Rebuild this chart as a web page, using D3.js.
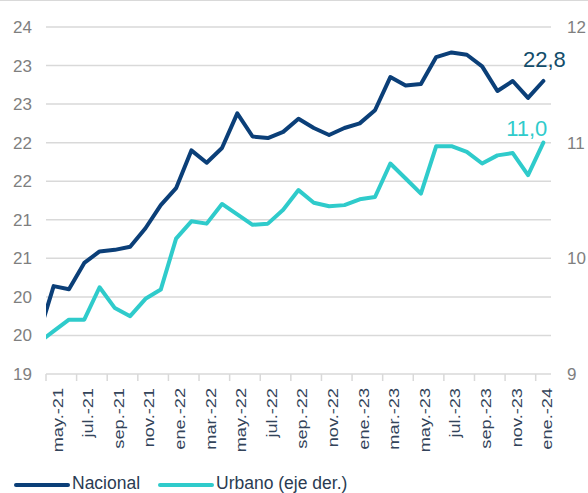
<!DOCTYPE html>
<html><head><meta charset="utf-8">
<script src="https://cdn.jsdelivr.net/npm/d3@7"></script>
<style>
html,body{margin:0;padding:0;background:#fff;}
svg{display:block;font-family:"Liberation Sans",Arial,sans-serif;}
</style></head>
<body>
<svg id="chart" width="588" height="493"></svg>
<script>
// ---- data ----
const categories = ["may.-21","jun.-21","jul.-21","ago.-21","sep.-21","oct.-21","nov.-21","dic.-21",
  "ene.-22","feb.-22","mar.-22","abr.-22","may.-22","jun.-22","jul.-22","ago.-22","sep.-22","oct.-22","nov.-22","dic.-22",
  "ene.-23","feb.-23","mar.-23","abr.-23","may.-23","jun.-23","jul.-23","ago.-23","sep.-23","oct.-23","nov.-23","dic.-23",
  "ene.-24"];
// value of the month before the first category (abr.-21), drawn clipped at the plot edge
const nacionalPrev = 19.49;
const urbanoPrev = 9.27;
const nacional = [20.14,20.10,20.44,20.59,20.61,20.65,20.89,21.19,21.41,21.90,21.74,21.93,22.38,22.08,22.06,22.14,22.31,
  22.19,22.10,22.19,22.25,22.42,22.85,22.74,22.76,23.11,23.17,23.14,22.99,22.67,22.80,22.58,22.80];
const urbano = [9.37,9.47,9.47,9.75,9.57,9.50,9.65,9.73,10.17,10.32,10.30,10.47,10.38,10.29,10.30,10.42,10.59,
  10.48,10.45,10.46,10.51,10.53,10.82,10.69,10.56,10.97,10.97,10.92,10.82,10.89,10.91,10.72,11.00];
const leftTicks = [19,19.5,20,20.5,21,21.5,22,22.5,23,23.5];
const leftTickLabels = ["19","20","20","21","21","22","22","23","23","24"];
const rightTicks = [9,10,11,12];
const rightTickLabels = ["9","10","11","12"];
const endLabels = ["22,8","11,0"];
const seriesNames = ["Nacional","Urbano (eje der.)"];

// ---- layout ----
const colNac = "#0b3f78", colUrb = "#2fcbcb";
const L = 46, R = 551, T = 27, B = 374;
const svg = d3.select("#chart");

const x = d3.scaleLinear().domain([-0.5, categories.length - 0.5]).range([L, R]);
const yL = d3.scaleLinear().domain([19, 23.5]).range([B, T]);
const yR = d3.scaleLinear().domain([9, 12]).range([B, T]);

// top border line
svg.append("line").attr("x1",0).attr("x2",588).attr("y1",0.5).attr("y2",0.5)
  .attr("stroke","#d9d9d9").attr("stroke-width",1);

// gridlines
svg.append("g").selectAll("line").data(leftTicks.slice(1)).join("line")
  .attr("x1",L).attr("x2",R).attr("y1",d=>yL(d)).attr("y2",d=>yL(d))
  .attr("stroke","#d9d9d9").attr("stroke-width",1.5);

// x axis line and ticks
svg.append("line").attr("x1",L).attr("x2",R).attr("y1",B).attr("y2",B)
  .attr("stroke","#d9d9d9").attr("stroke-width",1.5);
const tickIdx = d3.range(-0.5, categories.length - 1, 2);
svg.append("g").selectAll("line").data(tickIdx).join("line")
  .attr("x1",d=>x(d)).attr("x2",d=>x(d)).attr("y1",B).attr("y2",B+7)
  .attr("stroke","#d9d9d9").attr("stroke-width",1.5);

// x labels
svg.append("g").selectAll("text").data(categories.map((c,i)=>({c,i})).filter(d=>d.i%2===0)).join("text")
  .attr("transform",d=>`translate(${x(d.i)+4},${B+14}) rotate(-90) scale(1.3,1)`)
  .attr("text-anchor","end").attr("dy","0.35em")
  .attr("font-size",14).attr("fill","#33445a").text(d=>d.c);

// left labels
svg.append("g").selectAll("text").data(leftTicks).join("text")
  .attr("x",32).attr("y",d=>yL(d)).attr("dy","0.35em").attr("text-anchor","end")
  .attr("font-size",17).attr("fill","#7f7f7f").text((d,i)=>leftTickLabels[i]);
// right labels
svg.append("g").selectAll("text").data(rightTicks).join("text")
  .attr("x",567).attr("y",d=>yR(d)).attr("dy","0.35em").attr("text-anchor","start")
  .attr("font-size",17).attr("fill","#7f7f7f").text((d,i)=>rightTickLabels[i]);

// clip
svg.append("clipPath").attr("id","plotclip").append("rect")
  .attr("x",L).attr("y",0).attr("width",R-L+10).attr("height",B);

const lineL = d3.line().x(d=>x(d.i)).y(d=>yL(d.v));
const lineR = d3.line().x(d=>x(d.i)).y(d=>yR(d.v));
const nacPts = [{i:-1,v:nacionalPrev}].concat(nacional.map((v,i)=>({i,v})));
const urbPts = [{i:-1,v:urbanoPrev}].concat(urbano.map((v,i)=>({i,v})));

const g = svg.append("g").attr("clip-path","url(#plotclip)");
g.append("path").datum(urbPts).attr("d",lineR).attr("fill","none")
  .attr("stroke",colUrb).attr("stroke-width",4).attr("stroke-linejoin","round").attr("stroke-linecap","round");
g.append("path").datum(nacPts).attr("d",lineL).attr("fill","none")
  .attr("stroke",colNac).attr("stroke-width",4).attr("stroke-linejoin","round").attr("stroke-linecap","round");

// end labels
const last = categories.length - 1;
svg.append("text").attr("x",x(last)+1).attr("y",yL(nacional[last])-14).attr("text-anchor","middle")
  .attr("font-size",22).attr("fill","#134d6b").text(endLabels[0]);
svg.append("text").attr("x",x(last)+4).attr("y",yR(urbano[last])-7).attr("text-anchor","end")
  .attr("font-size",22).attr("fill",colUrb).text(endLabels[1]);

// legend
const leg = svg.append("g");
[[16,colNac,seriesNames[0]],[160,colUrb,seriesNames[1]]].forEach(([lx,c,t])=>{
  leg.append("line").attr("x1",lx).attr("x2",lx+52).attr("y1",485).attr("y2",485)
    .attr("stroke",c).attr("stroke-width",4).attr("stroke-linecap","round");
  leg.append("text").attr("x",lx+56).attr("y",489).attr("font-size",17.5).attr("fill","#2a3b52").text(t);
});
</script>
</body></html>
